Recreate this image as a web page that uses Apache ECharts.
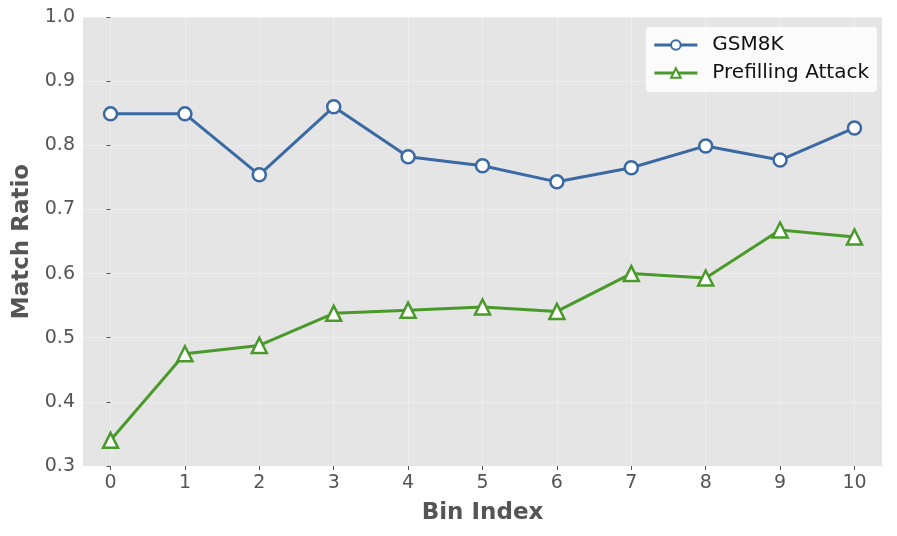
<!DOCTYPE html>
<html>
<head>
<meta charset="utf-8">
<script src="https://cdn.jsdelivr.net/npm/echarts@6/dist/echarts.min.js"></script>
<style>
  html, body { margin: 0; padding: 0; background: #fff; }
  #chart { width: 897px; height: 536px; }
</style>
</head>
<body>
<div id="chart"></div>
<script>
// bin index and the two series
const binIndex = [0, 1, 2, 3, 4, 5, 6, 7, 8, 9, 10];
const gsm8k = [0.849, 0.849, 0.754, 0.860, 0.782, 0.768, 0.743, 0.765, 0.799, 0.777, 0.827];
const prefilling = [0.340, 0.475, 0.488, 0.538, 0.543, 0.548, 0.541, 0.600, 0.593, 0.668, 0.657];

const chart = echarts.init(document.getElementById('chart'));

const pairs = arr => arr.map((v, i) => [binIndex[i], v]);

const option = {
  backgroundColor: '#ffffff',
  animation: false,
  textStyle: { fontFamily: 'DejaVu Sans' },
  grid: { left: 83, right: 15, top: 17, bottom: 70, backgroundColor: '#e5e5e5', show: true, borderWidth: 0 },
  xAxis: {
    type: 'value',
    min: -0.37,
    max: 10.37,
    name: 'Bin Index',
    nameLocation: 'middle',
    nameGap: 36,
    nameTextStyle: { fontSize: 23, fontWeight: 'bold', color: '#555555' },
    axisLine: { show: false },
    axisTick: { show: true, length: 4, lineStyle: { color: '#555555' }, customValues: binIndex },
    axisLabel: { fontSize: 19, color: '#555555', margin: 8, customValues: binIndex },
    splitLine: { show: true, lineStyle: { color: '#ffffff', width: 1, opacity: 0.35 } }
  },
  yAxis: {
    type: 'value',
    min: 0.3,
    max: 1.0,
    interval: 0.1,
    name: 'Match Ratio',
    nameLocation: 'middle',
    nameGap: 48,
    nameTextStyle: { fontSize: 23, fontWeight: 'bold', color: '#555555' },
    axisLine: { show: false },
    axisTick: { show: true, length: 4, lineStyle: { color: '#555555' } },
    axisLabel: { fontSize: 19, color: '#555555', margin: 8, formatter: v => v.toFixed(1) },
    splitLine: { show: true, lineStyle: { color: '#ffffff', width: 1, opacity: 0.35 } }
  },
  legend: {
    right: 20,
    top: 27,
    orient: 'vertical',
    itemWidth: 43,
    itemHeight: 12,
    itemGap: 8,
    padding: [8, 8, 9, 7],
    backgroundColor: 'rgba(255,255,255,0.85)',
    borderRadius: 4,
    lineStyle: { width: 3 },
    textStyle: { fontSize: 20, color: '#111111', padding: [0, 0, 0, 10] },
    data: ['GSM8K', 'Prefilling Attack']
  },
  series: [
    {
      name: 'GSM8K',
      type: 'line',
      data: pairs(gsm8k),
      symbol: 'circle',
      symbolSize: 13,
      color: '#3a69a4',
      lineStyle: { width: 3, color: '#3a69a4' },
      itemStyle: { color: '#ffffff', borderColor: '#3a69a4', borderWidth: 2.5 }
    },
    {
      name: 'Prefilling Attack',
      type: 'line',
      data: pairs(prefilling),
      symbol: 'triangle',
      symbolSize: 15,
      color: '#4a9a2b',
      lineStyle: { width: 3, color: '#4a9a2b' },
      itemStyle: { color: '#ffffff', borderColor: '#4a9a2b', borderWidth: 2.5 }
    }
  ]
};

chart.setOption(option);
</script>
</body>
</html>
